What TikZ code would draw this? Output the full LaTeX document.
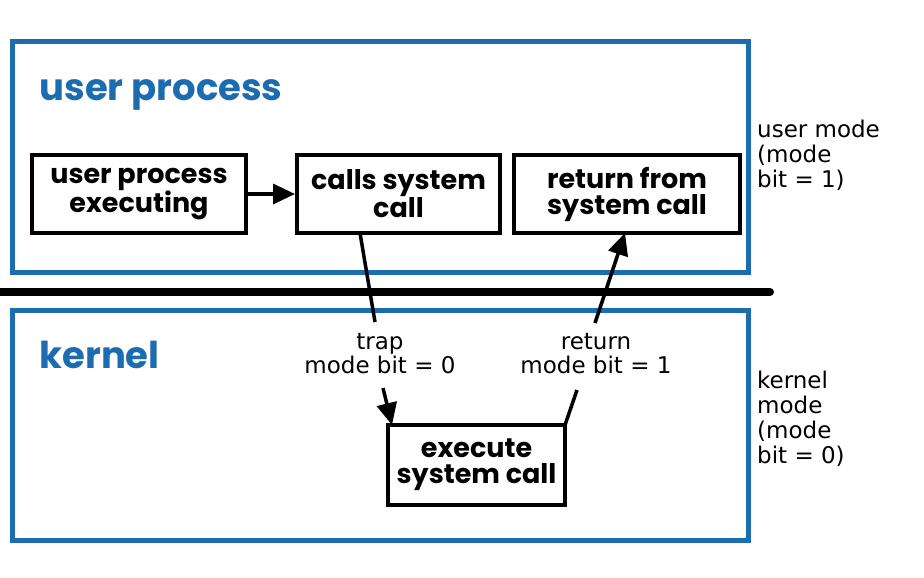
\documentclass[tikz,border=0pt]{standalone}
\usepackage{fontspec}
\setmainfont{DejaVu Sans}
\newfontfamily\boxfont{Poppins}
\usetikzlibrary{arrows.meta}
\definecolor{modeblue}{RGB}{28,108,176}
\begin{document}
\begin{tikzpicture}[x=1pt,y=-1pt,
  region/.style={draw=modeblue,line width=5pt},
  stepbox/.style={draw=black,line width=4pt,align=center,inner sep=0pt,
    font=\boxfont\bfseries\fontsize{27}{26}\selectfont},
  heading/.style={text=modeblue,anchor=base west,font=\boxfont\bfseries\fontsize{37}{40}\selectfont},
  side/.style={align=left,anchor=north west,inner sep=0pt,font=\fontsize{23}{25}\selectfont},
  midlabel/.style={align=center,inner sep=0pt,font=\fontsize{23}{24}\selectfont},
  flow/.style={line width=3.5pt,-{Triangle[length=22pt,width=20pt]}},
  plain/.style={line width=3.5pt}]
\useasboundingbox (0,0) rectangle (924,578);
\fill[white] (0,0) rectangle (924,578);

% user and kernel regions
\draw[region] (12,42) rectangle (748,272);
\draw[region] (12,310) rectangle (748,540);
\draw[line width=8pt,line cap=round] (-10,292) -- (770,292);

\node[heading] (uh) at (36,100) {user process};
\node[heading] (kh) at (36,368) {kernel};

% steps
\node[stepbox,minimum width=214pt,minimum height=78pt] (exec) at (139,194) {user process\\executing};
\node[stepbox,minimum width=203pt,minimum height=78pt] (call) at (398.5,194) {calls system\\call};
\node[stepbox,minimum width=226pt,minimum height=78pt] (ret) at (627,194) {return from\\system call};
\node[stepbox,minimum width=177pt,minimum height=80pt] (sys) at (476.5,465) {execute\\system call};

% labels
\node[midlabel] (trap) at (380,354) {trap\\mode bit = 0};
\node[midlabel] (back) at (596,354) {return\\mode bit = 1};
\node[side] (um) at (757,120) {user mode\\(mode\\bit = 1)};
\node[side] (km) at (757,371) {kernel\\mode\\(mode\\bit = 0)};

% connectors
\draw[flow] (exec.east) -- (call.west);
\coordinate (t0) at (360,233);
\coordinate (t1) at (375,322);
\coordinate (t2) at (383,388);
\coordinate (t3) at (392,425);
\draw[plain] (t0) -- (t1);
\draw[flow] (t2) -- (t3);
\coordinate (r0) at (565,425);
\coordinate (r1) at (577,390);
\coordinate (r2) at (595,323);
\coordinate (r3) at (625,233);
\draw[plain] (r0) -- (r1);
\draw[flow] (r2) -- (r3);
\end{tikzpicture}
\end{document}
